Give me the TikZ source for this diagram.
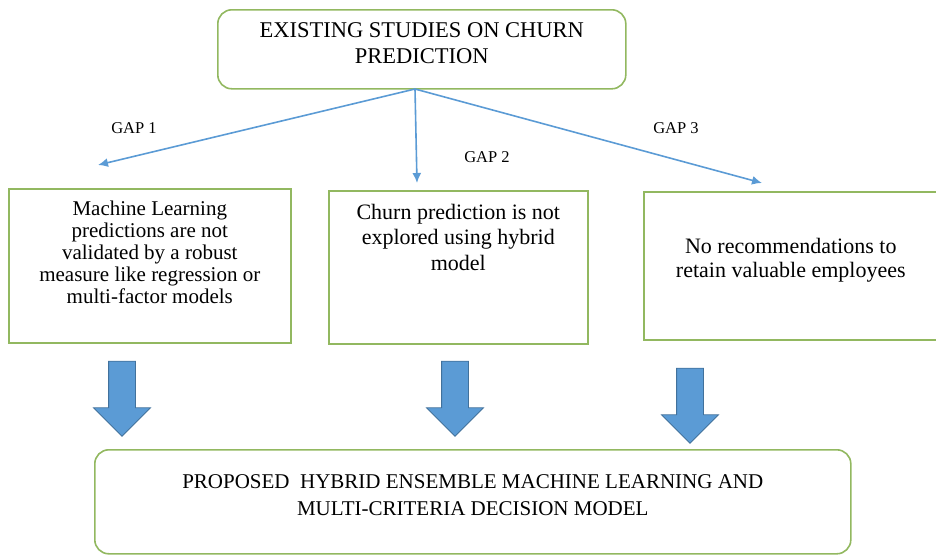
\documentclass[tikz,border=0pt]{standalone}
\usepackage{fontspec}
\setmainfont{Liberation Serif}
\usetikzlibrary{shapes,arrows.meta,positioning}

\definecolor{boxgreen}{RGB}{146,184,96}
\definecolor{arrowblue}{RGB}{91,155,213}
\definecolor{arrowedge}{RGB}{65,113,156}

\begin{document}
\begin{tikzpicture}[
    x=1pt, y=-1pt,
    roundbox/.style={rectangle, rounded corners=14pt, draw=boxgreen, line width=1.6pt, inner sep=0pt, anchor=north west},
    gapbox/.style={rectangle, draw=boxgreen, line width=1.6pt, inner sep=0pt, anchor=north west},
    gaparrow/.style={-{Latex[length=10pt,width=9pt]}, draw=arrowblue, line width=1.6pt},
    gaplabel/.style={font=\fontsize{16.5}{18}\selectfont},
    downarrow/.style={single arrow, rotate=-90, draw=arrowedge, fill=arrowblue, line width=0.8pt,
        minimum height=75pt, minimum width=56pt, inner sep=13pt, single arrow head extend=15pt}
]
\useasboundingbox (0,0) rectangle (936,554);

% top box
\node[roundbox] (exist) at (217,9) {\parbox[c][79pt][t]{408pt}{\centering
    \fontsize{22.5}{25.5}\selectfont\vspace*{13pt}
    EXISTING STUDIES ON CHURN\\PREDICTION}};

% research gaps
\node[gapbox] (ml) at (8,188) {\parbox[c][154pt][t]{282pt}{\centering
    \fontsize{21}{22}\selectfont\vspace*{12pt}
    Machine Learning\\predictions are not\\validated by a robust\\measure like regression or\\multi-factor models}};
\node[gapbox] (hybrid) at (328,190) {\parbox[c][153pt][t]{259pt}{\centering
    \fontsize{22}{25.5}\selectfont\vspace*{13pt}
    Churn prediction is not\\explored using hybrid\\model}};
\node[gapbox] (retain) at (643,191) {\parbox[c][148pt][t]{294pt}{\centering
    \fontsize{22}{24}\selectfont\vspace*{46pt}
    No recommendations to\\retain valuable employees}};

% bottom box
\node[roundbox] (proposed) at (94,449) {\parbox[c][104pt][t]{756pt}{\centering
    \fontsize{21}{27}\selectfont\vspace*{25pt}
    PROPOSED\ \ HYBRID ENSEMBLE MACHINE LEARNING AND\\MULTI-CRITERIA DECISION MODEL}};

% gap arrows
\coordinate (fork) at (415,89);
\coordinate (tip1) at (98,165);
\coordinate (tip2) at (417,183);
\coordinate (tip3) at (762,183);
\draw[gaparrow] (fork) -- (tip1);
\draw[gaparrow] (fork) -- (tip2);
\draw[gaparrow] (fork) -- (tip3);

\node[gaplabel] (gap1) at (134,128) {GAP 1};
\node[gaplabel] (gap2) at (487,157) {GAP 2};
\node[gaplabel] (gap3) at (676,128) {GAP 3};

% block arrows
\node[downarrow] (down1) at (122,392) {};
\node[downarrow] (down2) at (455,392) {};
\node[downarrow] (down3) at (690,399) {};
\end{tikzpicture}
\end{document}
